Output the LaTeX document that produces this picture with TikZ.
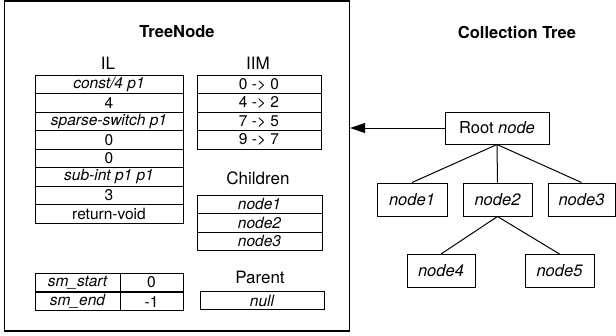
\documentclass[tikz,border=0pt]{standalone}
\usepackage{fontspec}
\setmainfont{TeX Gyre Heros}
\usetikzlibrary{arrows.meta}

\tikzset{
  cell/.style={draw, inner sep=0pt, minimum height=18.5pt, font=\fontsize{15.5}{18}\selectfont},
  icell/.style={cell, font=\fontsize{15.5}{18}\selectfont\itshape},
  heading/.style={font=\fontsize{17}{20}\selectfont},
  boxtitle/.style={font=\fontsize{16.5}{20}\selectfont\bfseries},
  tnode/.style={draw, inner sep=0pt, minimum width=70pt, minimum height=33pt, font=\fontsize{16.5}{19}\selectfont\itshape},
}

\begin{document}
\begin{tikzpicture}[x=1pt, y=-1pt, line width=1pt]
\useasboundingbox (0,0) rectangle (616,335);

% the TreeNode box
\node[draw, line width=1.2pt, inner sep=0pt, minimum width=345pt, minimum height=330pt] (treenode) at (177,166) {};
\node[boxtitle] (tn-title) at (177,32) {TreeNode};
\node[heading] (il) at (108,63) {IL};
\node[heading] (iim) at (258,63) {IIM};
\node[heading] (children) at (258,178) {Children};
\node[heading] (parent) at (260,277) {Parent};

\foreach \txt [count=\i] in {\textit{const/4 p1}, 4, \textit{sparse-switch p1}, 0, 0, \textit{sub-int p1 p1}, 3, return-void}
  \node[cell, minimum width=148pt] (il-\i) at (109, {75+18.5*(\i-0.5)}) {\txt};

\foreach \txt [count=\i] in {0 -> 0, 4 -> 2, 7 -> 5, 9 -> 7}
  \node[cell, minimum width=124pt] (iim-\i) at (259, {75+18.5*(\i-0.5)}) {\txt};

\foreach \txt [count=\i] in {node1, node2, node3}
  \node[icell, minimum width=125pt] (child-\i) at (259.5, {195+18.5*(\i-0.5)}) {\txt};

\node[icell, minimum width=124pt] (parent-val) at (262,300.5) {null};

\node[icell, minimum width=85pt] (smstart) at (77.5,282.5) {sm\_start};
\node[cell, minimum width=63pt] (smstart-val) at (151.5,282.5) {0};
\node[icell, minimum width=85pt] (smend) at (77.5,301.5) {sm\_end};
\node[cell, minimum width=63pt] (smend-val) at (151.5,301.5) {-1};

% the collection tree
\node[boxtitle] (ct-title) at (517,32) {Collection Tree};
\node[tnode, minimum width=104pt, minimum height=32pt, font=\fontsize{16.5}{19}\selectfont] (root) at (497,128) {Root \textit{node}};
\node[tnode] (n1) at (412,199.5) {node1};
\node[tnode, minimum width=69pt] (n2) at (497.5,199.5) {node2};
\node[tnode, minimum width=67pt] (n3) at (581.5,199.5) {node3};
\node[tnode, minimum width=68pt] (n4) at (441,271) {node4};
\node[tnode, minimum width=69pt] (n5) at (559.5,271) {node5};

\draw (root.south) -- (n1.north);
\draw (root.south) -- (n2.north);
\draw (root.south) -- (n3.north);
\draw (n2.south) -- (n4.north);
\draw (n2.south) -- (n5.north);

\draw[-{Triangle[length=15pt,width=10pt]}] (root.west) -- (root.west -| treenode.east);
\end{tikzpicture}
\end{document}
